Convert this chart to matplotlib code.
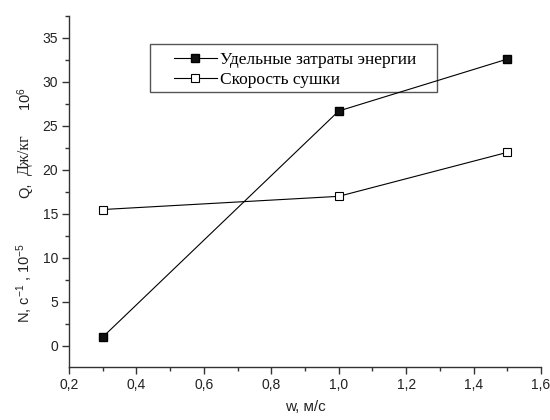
import matplotlib.pyplot as plt
from matplotlib.ticker import MultipleLocator, FuncFormatter
from matplotlib.patches import Rectangle

plt.rcParams['mathtext.default'] = 'regular'

w = [0.3, 1.0, 1.5]
energiya = [1.0, 26.7, 32.6]
skorost = [15.5, 17.0, 22.0]
names = ['Удельные затраты энергии', 'Скорость сушки']

fig = plt.figure(figsize=(5.5, 4.2), dpi=100)
ax = fig.add_axes([0.1255, 0.1262, 0.8581, 0.8357])

ax.plot(w, energiya, color='black', lw=0.8, marker='s', ms=6,
        mfc='#111111', mec='black', label=names[0])
ax.plot(w, skorost, color='black', lw=0.8, marker='s', ms=6,
        mfc='white', mec='black', mew=0.8, label=names[1])

ax.set_xlim(0.2, 1.6)
ax.set_ylim(-2.4, 37.5)
ax.xaxis.set_major_locator(MultipleLocator(0.2))
ax.xaxis.set_minor_locator(MultipleLocator(0.1))
ax.yaxis.set_major_locator(MultipleLocator(5))
ax.yaxis.set_minor_locator(MultipleLocator(2.5))
ax.xaxis.set_major_formatter(FuncFormatter(lambda v, p: f'{v:.1f}'.replace('.', ',')))
ax.spines['top'].set_visible(False)
ax.spines['right'].set_visible(False)
for s in ['left', 'bottom']:
    ax.spines[s].set_color('#333333')
    ax.spines[s].set_linewidth(1.0)
ax.tick_params(which='major', direction='out', length=5, width=1, colors='#333333',
               labelsize=10, labelcolor='#222222', pad=3)
ax.tick_params(which='minor', direction='out', length=3, width=1, colors='#333333')
for t in ax.get_xticklabels() + ax.get_yticklabels():
    t.set_fontfamily('Liberation Sans')

# legend without its own frame, box drawn separately to get the wide side margins
leg = ax.legend(loc='upper left', bbox_to_anchor=(0.2215, 0.898), borderaxespad=0,
                prop={'family': 'Liberation Serif', 'size': 12.5},
                frameon=False, handlelength=2.5, handletextpad=0.15,
                borderpad=0.0, labelspacing=0.25, markerscale=0.9)
ax.add_patch(Rectangle((150 / 550, 1 - 92 / 420), 287 / 550, 48 / 420,
                       transform=fig.transFigure, fill=False,
                       edgecolor='#555555', lw=1.0, zorder=1))

# y label pieces
fig.text(25 / 550, 1 - 323 / 420, 'N, c$^{-1}$ , 10$^{-5}$', rotation=90,
         ha='center', va='bottom', fontsize=10.5, family='Liberation Sans', color='#222222')
fig.text(25 / 550, 1 - 198 / 420, 'Q,', rotation=90,
         ha='center', va='bottom', fontsize=10.5, family='Liberation Sans', color='#222222')
fig.text(25 / 550, 1 - 155 / 420, 'Дж/кг', rotation=90,
         ha='center', va='center', fontsize=11.5, family='Liberation Serif', color='#222222')
fig.text(25 / 550, 1 - 99 / 420, '10$^{6}$', rotation=90,
         ha='center', va='center', fontsize=10.5, family='Liberation Sans', color='#222222')

fig.text(305 / 550, 1 - 407 / 420, 'w, м/с', ha='center', va='center',
         fontsize=11, family='Liberation Sans', color='#222222')

fig.savefig('out.png', dpi=100)
